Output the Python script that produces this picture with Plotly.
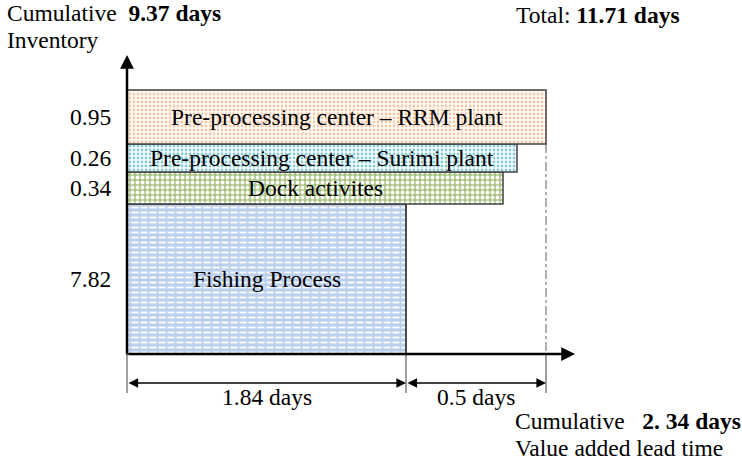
import plotly.graph_objects as go

# ---------------- data ----------------
stages = ["Fishing Process", "Dock activites",
          "Pre-processing center – Surimi plant",
          "Pre-processing center – RRM plant"]
inventory_days = [7.82, 0.34, 0.26, 0.95]
inventory_labels = ["7.82", "0.34", "0.26", "0.95"]
lead_time_segments = [1.84, 0.5]
lead_time_labels = ["1.84 days", "0.5 days"]
cumulative_inventory = "9.37 days"
cumulative_value_added = "2. 34 days"
total_label = "11.71 days"

# ---------------- schematic layout (not to scale) ----------------
box_length = [279, 376, 390, 419]
box_bottom = [0, 150, 182, 210]
box_height = [150, 32, 28, 54]
segment_edges = [0, 279, 419]
fill_bg = ["#BCD0EE", "#ABC584", "#FFFFFF", "#FFFFFF"]
fill_fg = ["#FFFFFF", "#FFFFFF", "#86CAD9", "#F8C8A6"]
fill_shape = ["-", ".", ".", "."]
fill_size = [5, 5, 4, 4]
fill_solid = [0.35, 0.45, 0.4, 0.4]
# extra overlay that breaks the white lines into dashes (first box only)
dash_overlay = ["|", None, None, None]

FONT = "Liberation Serif, Times New Roman, serif"
FS = 23.5

fig = go.Figure()
for i, s in enumerate(stages):
    cy = box_bottom[i] + box_height[i] / 2
    fig.add_trace(go.Bar(
        orientation="h", base=[0], x=[box_length[i]], y=[cy], width=[box_height[i]],
        marker=dict(color=fill_bg[i],
                    line=dict(color="#404040", width=1.5),
                    pattern=dict(shape=fill_shape[i], bgcolor=fill_bg[i],
                                 fgcolor=fill_fg[i], size=fill_size[i],
                                 solidity=fill_solid[i], fillmode="replace")),
        hoverinfo="skip", showlegend=False, name=s))
    if dash_overlay[i]:
        fig.add_trace(go.Bar(
            orientation="h", base=[0], x=[box_length[i]], y=[cy], width=[box_height[i]],
            marker=dict(color="rgba(0,0,0,0)",
                        line=dict(color="#404040", width=1.5),
                        pattern=dict(shape=dash_overlay[i], bgcolor="rgba(0,0,0,0)",
                                     fgcolor=fill_bg[i], size=9, solidity=0.22,
                                     fillmode="replace")),
            hoverinfo="skip", showlegend=False, name=s))

ann = []
for i, s in enumerate(stages):
    cy = box_bottom[i] + box_height[i] / 2
    ann.append(dict(x=box_length[i] / 2, y=cy, text=s, showarrow=False,
                    font=dict(size=FS, color="black", family=FONT)))
    ann.append(dict(x=-14, y=cy, text=inventory_labels[i], showarrow=False,
                    xanchor="right", font=dict(size=FS, color="black", family=FONT)))

# axes arrows
ann.append(dict(x=0, y=299, ax=0, ay=-1, axref="x", ayref="y", text="", showarrow=True,
                arrowhead=2, arrowsize=1.1, arrowwidth=2.5, arrowcolor="black", standoff=0))
ann.append(dict(x=448, y=0, ax=0, ay=0, axref="x", ayref="y", text="", showarrow=True,
                arrowhead=2, arrowsize=1.1, arrowwidth=2.5, arrowcolor="black", standoff=0))

# dimension arrows
for k in range(len(lead_time_segments)):
    x0, x1 = segment_edges[k], segment_edges[k + 1]
    ann.append(dict(x=x1, y=-29, ax=x0, ay=-29, axref="x", ayref="y", text="",
                    showarrow=True, arrowhead=2, arrowsize=1.2, arrowwidth=1.6,
                    arrowside="end+start", arrowcolor="black", standoff=0, startstandoff=0))
    ann.append(dict(x=(x0 + x1) / 2, y=-43, text=lead_time_labels[k], showarrow=False,
                    font=dict(size=FS, color="black", family=FONT)))

shapes = []
for xe in segment_edges:
    shapes.append(dict(type="line", x0=xe, x1=xe, y0=0, y1=-39,
                       line=dict(color="#404040", width=1)))
shapes.append(dict(type="line", x0=segment_edges[-1], x1=segment_edges[-1],
                   y0=box_bottom[-1], y1=0, line=dict(color="#606060", width=1, dash="dashdot")))

# free text
tf = dict(size=FS, color="black", family=FONT)
ann.append(dict(x=-122, y=341, xanchor="left", showarrow=False,
                text="Cumulative  <b>" + cumulative_inventory + "</b>", font=tf))
ann.append(dict(x=-122, y=314, xanchor="left", showarrow=False,
                text="Inventory", font=tf))
ann.append(dict(x=387, y=339, xanchor="left", showarrow=False,
                text="Total: <b>" + total_label + "</b>", font=tf))
ann.append(dict(x=386, y=-67, xanchor="left", showarrow=False,
                text="Cumulative   <b>" + cumulative_value_added + "</b>", font=tf))
ann.append(dict(x=386, y=-94, xanchor="left", showarrow=False,
                text="Value added lead time", font=tf))

fig.update_layout(
    width=742, height=463, margin=dict(l=0, r=0, t=0, b=0),
    paper_bgcolor="white", plot_bgcolor="white",
    xaxis=dict(range=[-127, 615], visible=False, fixedrange=True),
    yaxis=dict(range=[-109, 354], visible=False, fixedrange=True),
    annotations=ann, shapes=shapes, barmode="overlay",
    font=dict(family=FONT),
)
fig.write_html("out.html", config={"displayModeBar": False},
               post_script="document.body.style.margin='0';document.body.style.overflow='hidden';")
